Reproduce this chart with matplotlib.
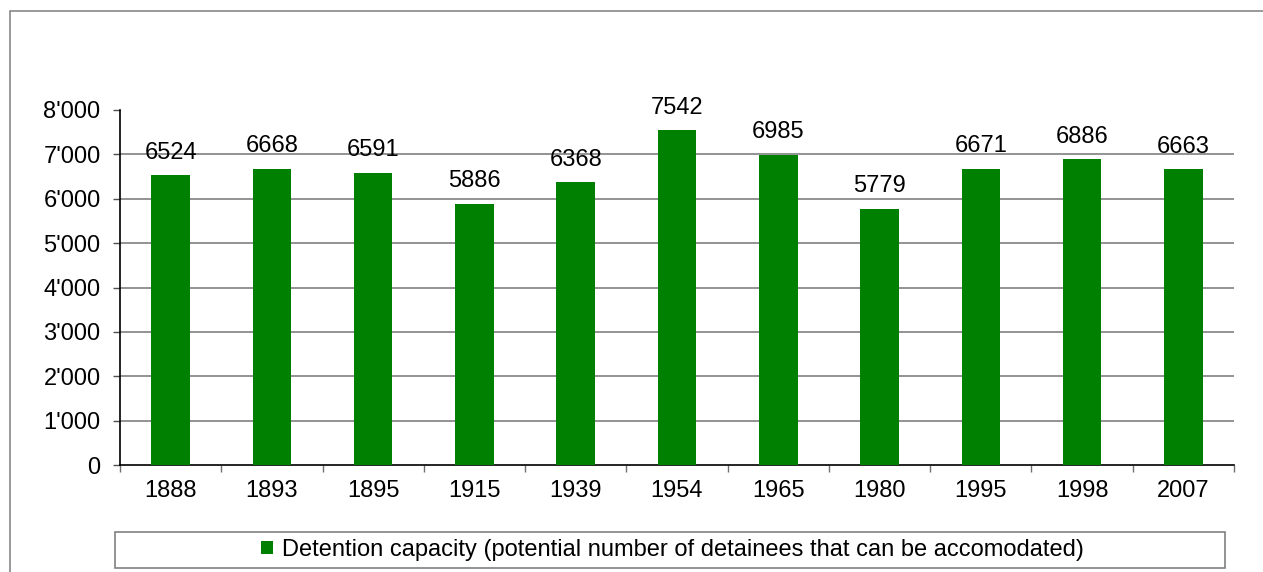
import matplotlib
matplotlib.use("Agg")
import matplotlib.pyplot as plt
from matplotlib.patches import Rectangle
import numpy as np

years = ["1888", "1893", "1895", "1915", "1939", "1954", "1965", "1980", "1995", "1998", "2007"]
capacity = [6524, 6668, 6591, 5886, 6368, 7542, 6985, 5779, 6671, 6886, 6663]
series_name = "Detention capacity (potential number of detainees that can be accomodated)"

plt.rcParams['font.family'] = ['Liberation Sans', 'DejaVu Sans']
FS = 17

fig = plt.figure(figsize=(12.63, 5.72), dpi=100)
fig.patches.append(Rectangle((10/1263, -0.02), 1.0, 1.02 - 11/572, transform=fig.transFigure,
                             fill=False, edgecolor='#888888', linewidth=1.2))

ax = fig.add_axes([120/1263, 1 - 465/572, (1234-120)/1263, (465-110)/572])
x = np.arange(len(years))
green = '#008000'
ax.bar(x, capacity, width=0.38, color=green, zorder=3, label=series_name)
for xi, v in zip(x, capacity):
    ax.annotate(str(v), (xi, v), xytext=(0, 12), textcoords='offset points',
                ha='center', va='baseline', fontsize=FS, zorder=4)

ax.set_xlim(-0.5, len(years) - 0.5)
ax.set_ylim(0, 8000)
yt = np.arange(0, 8001, 1000)
ax.set_yticks(yt)
ax.set_yticklabels([f"{int(v/1000)}'000" if v else "0" for v in yt])
for yv in range(1000, 8000, 1000):
    ax.axhline(yv, color='#808080', linewidth=1.2, zorder=1)
ax.set_xticks(x)
ax.set_xticklabels(years)
ax.set_xticks(np.arange(-0.5, len(years), 1), minor=True)
ax.tick_params(axis='x', which='major', length=0, labelsize=FS, pad=11)
ax.tick_params(axis='x', which='minor', length=5, width=1, color='#707070', direction='out')
ax.tick_params(axis='y', length=5, width=1, color='#505050', labelsize=FS, pad=9, direction='out')
for s in ['top', 'right']:
    ax.spines[s].set_visible(False)
ax.spines['left'].set_linewidth(1.2)
ax.spines['bottom'].set_linewidth(1.2)

# legend frame
fig.patches.append(Rectangle((115/1263, 1 - 568/572), (1225-115)/1263, 36/572,
                             transform=fig.transFigure, fill=False,
                             edgecolor='#808080', linewidth=1.2))
fig.legend(loc='center', bbox_to_anchor=((115+1225)/2/1263 + 0.002, 1 - 550/572),
           fontsize=FS, frameon=False,
           handlelength=0.5, handleheight=0.5, borderpad=0.0, handletextpad=0.4)

fig.savefig("out.png", dpi=100)
